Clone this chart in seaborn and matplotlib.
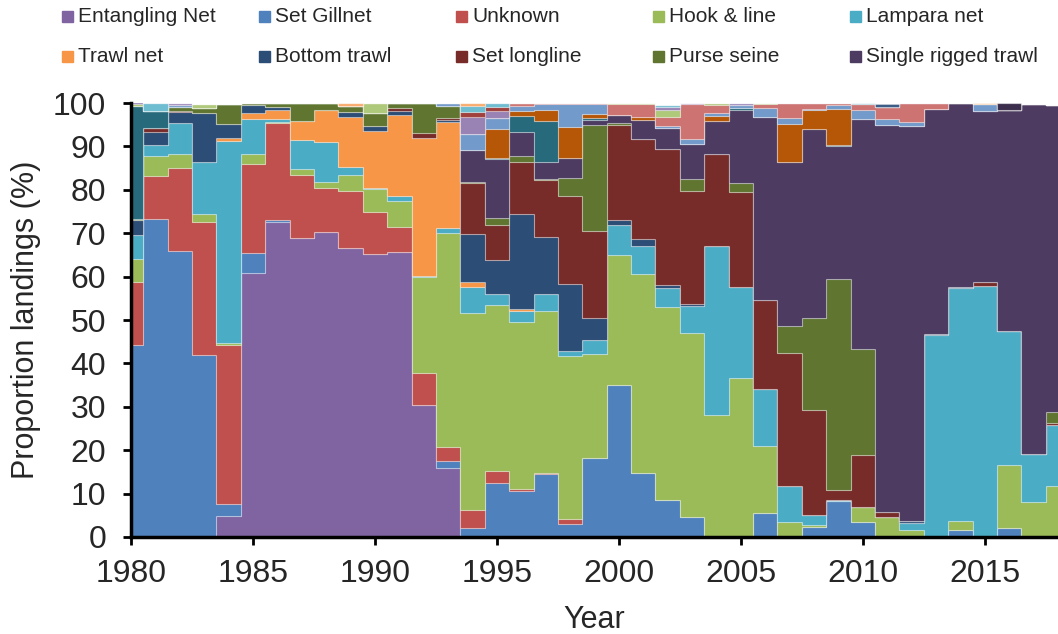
import pandas as pd
import matplotlib.pyplot as plt
import seaborn as sns
from matplotlib.patches import Rectangle

# Years on the x axis (each column is centred on its year)
years = list(range(1980, 2019))

# Proportion of landings (%) per gear
# rows: 1980-89 | 1990-99 | 2000-09 | 2010-18
entangling_net = [0, 0, 0, 0, 4.8, 60.8, 72.6, 68.9, 70.3, 66.6,
                  65.2, 65.6, 30.5, 16.0, 0, 0, 0, 0, 0, 0,
                  0, 0, 0, 0, 0, 0, 0, 0, 0, 0,
                  0, 0, 0, 0, 0, 0, 0, 0, 0]
set_gillnet = [44.3, 73.2, 65.9, 42.0, 2.7, 4.6, 0.4, 0, 0, 0,
               0, 0, 0, 1.4, 2.0, 12.5, 10.6, 14.5, 3.0, 18.2,
               35.1, 14.7, 8.5, 4.6, 0, 0.2, 5.5, 0, 2.4, 8.2,
               3.5, 0, 0, 0, 1.6, 0, 2.0, 0, 0]
unknown = [14.4, 10.0, 19.2, 30.5, 36.8, 20.6, 22.3, 14.4, 10.2, 13.2,
           9.6, 5.8, 7.3, 3.4, 4.2, 2.7, 0.5, 0.3, 1.2, 0,
           0, 0, 0, 0, 0, 0, 0, 0, 0, 0,
           0, 0, 0, 0, 0, 0, 0, 0, 0]
hook_line = [5.4, 4.5, 3.2, 2.0, 0.4, 2.2, 0.4, 1.6, 1.4, 3.5,
             5.3, 6.1, 22.0, 49.2, 45.3, 38.2, 38.4, 37.2, 37.6, 24.0,
             29.8, 45.8, 44.4, 42.4, 28.2, 36.4, 15.5, 3.4, 0.4, 0,
             3.3, 4.5, 1.6, 0, 2.1, 0, 14.5, 8.0, 11.8]
lampara_net = [5.6, 2.6, 7.0, 11.9, 46.5, 8.0, 0.7, 6.6, 9.2, 1.9,
               0.4, 1.0, 0.3, 1.2, 6.0, 2.6, 2.5, 4.0, 1.0, 3.3,
               7.1, 6.5, 4.5, 6.2, 38.8, 20.9, 13.2, 8.4, 2.3, 0.4,
               0, 0, 1.6, 46.6, 53.7, 57.8, 31.0, 11.1, 13.9]
trawl_net = [0, 0, 0, 0, 0.8, 1.6, 2.0, 4.3, 7.2, 11.6,
             13.1, 18.7, 31.9, 24.5, 1.2, 0, 0.6, 0, 0, 0,
             0, 0, 0, 0, 0, 0, 0, 0, 0, 0,
             0, 0, 0, 0, 0, 0, 0, 0, 0]
bottom_trawl = [3.3, 3.1, 2.7, 11.2, 3.2, 1.7, 0.7, 0, 0, 1.2,
                1.2, 0.9, 0, 0.4, 11.1, 7.9, 21.9, 13.2, 15.6, 5.0,
                1.0, 1.7, 0.6, 0.4, 0, 0, 0, 0, 0, 0,
                0, 0, 0.6, 0.2, 0.3, 0, 0, 0, 0]
set_longline = [0, 0.9, 0.2, 0, 0, 0, 0, 0, 0, 0,
                0, 0.8, 1.0, 0.4, 11.8, 7.9, 11.9, 13.0, 20.1, 20.0,
                21.9, 22.9, 31.3, 26.1, 21.3, 22.0, 20.5, 30.6, 24.2, 2.3,
                12.0, 1.2, 0, 0, 0, 0.9, 0, 0, 0.5]
purse_seine = [0.3, 0, 0.9, 1.3, 4.6, 0.5, 0.8, 4.1, 1.7, 1.2,
               2.9, 1.1, 6.9, 2.8, 0.2, 1.7, 1.4, 0.3, 4.3, 24.4,
               0.4, 0, 0, 2.7, 0, 2.0, 0, 6.3, 21.2, 48.5,
               24.6, 0, 0, 0, 0, 0, 0, 0, 2.5]
single_rigged = [0, 0, 0, 0, 0, 0, 0, 0, 0, 0,
                 0, 0, 0, 0, 7.3, 13.5, 5.5, 3.9, 4.6, 1.1,
                 1.9, 4.5, 5.0, 8.2, 7.5, 17.0, 42.1, 37.8, 43.4, 30.6,
                 52.8, 89.2, 90.8, 51.9, 42.2, 39.5, 51.0, 80.6, 70.9]
# gears without a legend entry (small slivers)
other_teal = [26.0, 3.9, 0, 0, 0, 0, 0, 0, 0, 0,
              0, 0, 0, 0, 0, 0.3, 3.7, 9.4, 0, 0.5,
              0, 0, 0, 0, 0, 0.4, 0, 0, 0, 0.4,
              0, 0, 0, 0, 0, 0, 0, 0, 0]
other_dkorange = [0, 0, 0, 0, 0, 0, 0, 0, 0, 0,
                  0, 0, 0, 0, 0, 6.8, 1.2, 2.5, 7.1, 0.9,
                  0, 0.7, 0, 0, 1.2, 0, 0, 8.6, 4.4, 8.2,
                  0, 0, 0, 0, 0, 0, 0, 0, 0]
other_ltblue = [0, 0, 0.5, 0, 0, 0, 0, 0, 0, 0,
                0, 0, 0, 0.6, 3.7, 2.5, 1.1, 1.4, 5.2, 2.3,
                0, 0, 0.4, 1.0, 0.8, 0.7, 2.1, 1.5, 0.4, 0.9,
                2.1, 1.5, 1.0, 0, 0, 1.5, 0, 0, 0]
other_pink = [0, 0, 0, 0, 0, 0, 0, 0, 0, 0,
              0, 0, 0, 0, 0, 0, 0.7, 0.3, 0.3, 0.3,
              2.5, 2.9, 2.1, 8.1, 1.7, 0, 0.9, 3.4, 1.3, 0.5,
              1.4, 2.6, 4.3, 1.3, 0, 0, 0, 0, 0]
other_ltgreen = [0.5, 0, 0, 0.9, 0, 0, 0, 0, 0, 0,
                 2.2, 0, 0, 0, 0, 0, 0, 0, 0, 0,
                 0.3, 0.3, 1.7, 0, 0.5, 0, 0.2, 0, 0, 0,
                 0, 0, 0, 0, 0, 0, 0, 0, 0]
other_ltpurple = [0.4, 0, 0.3, 0, 0, 0, 0, 0, 0, 0,
                  0, 0, 0, 0, 4.0, 1.5, 0, 0, 0, 0,
                  0, 0, 0.6, 0.3, 0, 0.4, 0, 0, 0, 0,
                  0, 0, 0, 0, 0, 0, 0, 0, 0]
other_red = [0, 0, 0, 0, 0, 0, 0, 0, 0, 0,
             0, 0, 0, 0, 1.2, 1.0, 0, 0, 0, 0,
             0, 0, 0, 0, 0, 0, 0, 0, 0, 0,
             0, 0, 0, 0, 0, 0, 0, 0, 0]
other_ltaqua = [0, 1.8, 0, 0, 0, 0, 0, 0, 0, 0,
                0, 0, 0, 0, 1.3, 0.8, 0, 0, 0, 0,
                0, 0, 0.5, 0, 0, 0, 0, 0, 0, 0,
                0.3, 0, 0, 0, 0, 0, 0, 0, 0]
other_ltorange = [0, 0, 0, 0, 0, 0, 0, 0, 0, 0.7,
                  0, 0, 0, 0, 0.7, 0, 0, 0, 0, 0,
                  0, 0, 0, 0, 0, 0, 0, 0, 0, 0,
                  0, 0, 0, 0, 0, 0.3, 0, 0, 0]
other_dkpurple = [0, 0, 0, 0, 0, 0, 0, 0, 0, 0,
                  0, 0, 0, 0, 0, 0, 0, 0, 0, 0,
                  0, 0, 0, 0, 0, 0, 0, 0, 0, 0,
                  0, 0, 0, 0, 0, 0, 1.5, 0, 0]
other_navy = [0, 0, 0, 0, 0, 0, 0, 0, 0, 0,
              0, 0, 0, 0, 0, 0, 0, 0, 0, 0,
              0, 0, 0, 0, 0, 0, 0, 0, 0, 0,
              0, 0.8, 0.2, 0, 0, 0, 0, 0, 0]

# stacking order, bottom -> top
gears = {
    "Entangling Net": (entangling_net, "#8064A2"),
    "Set Gillnet": (set_gillnet, "#4F81BD"),
    "Unknown": (unknown, "#C0504D"),
    "Hook & line": (hook_line, "#9BBB59"),
    "Lampara net": (lampara_net, "#4BACC6"),
    "Trawl net": (trawl_net, "#F79646"),
    "Bottom trawl": (bottom_trawl, "#2C4D75"),
    "Set longline": (set_longline, "#772C2A"),
    "Purse seine": (purse_seine, "#5F7530"),
    "Single rigged trawl": (single_rigged, "#4D3B62"),
    "Other 1": (other_teal, "#276A7C"),
    "Other 2": (other_dkorange, "#B65708"),
    "Other 3": (other_ltblue, "#729ACA"),
    "Other 4": (other_pink, "#CD7371"),
    "Other 5": (other_ltgreen, "#AFC97A"),
    "Other 6": (other_ltpurple, "#9983B5"),
    "Other 7": (other_red, "#A0413E"),
    "Other 8": (other_ltaqua, "#6FBDD1"),
    "Other 9": (other_ltorange, "#F9AB6B"),
    "Other 10": (other_dkpurple, "#3B2E4C"),
    "Other 11": (other_navy, "#3A5A85"),
}
legend_names = list(gears)[:10]

rows = []
for name, (vals, _) in gears.items():
    for y, v in zip(years, vals):
        rows.append({"Year": y, "Gear": name, "Value": v})
df = pd.DataFrame(rows)
palette = {name: c for name, (_, c) in gears.items()}

sns.set_style("ticks")
plt.rcParams["font.family"] = ["Liberation Sans", "DejaVu Sans"]

fig = plt.figure(figsize=(10.58, 6.34), dpi=100)
ax = fig.add_axes([131 / 1058, 97 / 634, 927 / 1058, 434 / 634])

# seaborn puts the first hue level on top of the stack -> reverse
sns.histplot(data=df, x="Year", weights="Value", hue="Gear",
             hue_order=list(gears)[::-1], palette=palette,
             multiple="stack", element="step", discrete=True,
             alpha=1, edgecolor=(1, 1, 1, 0.3), linewidth=0.8,
             legend=False, ax=ax)

ax.set_xlim(1980, 2018)
ax.set_ylim(0, 100)
ax.set_xticks(range(1980, 2016, 5))
ax.set_yticks(range(0, 101, 10))
ax.set_xlabel("Year", fontsize=22, labelpad=11)
ax.set_ylabel("Proportion landings (%)", fontsize=22)
ax.yaxis.set_label_coords(-0.097, 0.5)
ax.tick_params(axis="both", direction="out", length=6, width=2,
               labelsize=23, color="black")
ax.tick_params(axis="y", pad=12)
ax.tick_params(axis="x", pad=10)
sns.despine(ax=ax)
for s in ("left", "bottom"):
    ax.spines[s].set_linewidth(2.5)
    ax.spines[s].set_color("black")

# legend: two rows of five square markers
for i, name in enumerate(legend_names):
    x0 = 62 + 197 * (i % 5)
    yc = 16.5 if i < 5 else 56
    fig.add_artist(Rectangle((x0 / 1058, 1 - (yc + 5.5) / 634), 11 / 1058, 11 / 634,
                             transform=fig.transFigure, color=palette[name]))
    fig.text((x0 + 16) / 1058, 1 - yc / 634, name, fontsize=15, va="center", ha="left")

fig.savefig("out.png", dpi=100)
